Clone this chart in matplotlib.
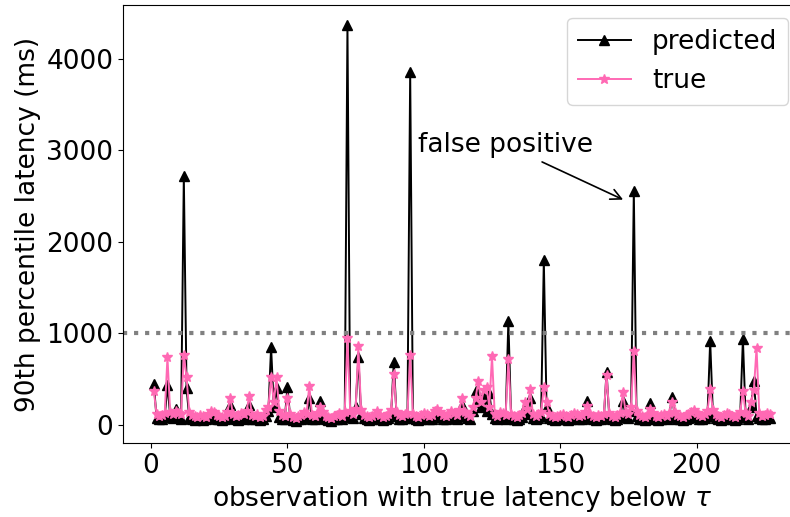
import numpy as np
import matplotlib
matplotlib.use("Agg")
import matplotlib.pyplot as plt

# observation index (1-based)
obs = list(range(1, 228))

predicted = [
    450, 80, 60, 70, 90, 440, 100, 80, 180, 90,
    70, 2720, 400, 80, 60, 50, 60, 70, 50, 60,
    80, 100, 90, 70, 60, 50, 70, 90, 220, 80,
    60, 50, 80, 70, 90, 220, 70, 60, 80, 50,
    60, 100, 150, 850, 200, 400, 90, 70, 60, 420,
    80, 50, 40, 60, 70, 90, 80, 290, 70, 60,
    80, 260, 90, 60, 50, 40, 60, 70, 80, 60,
    90, 4370, 100, 80, 200, 740, 120, 80, 60, 50,
    60, 80, 100, 70, 50, 60, 80, 120, 690, 100,
    70, 60, 80, 90, 3860, 80, 60, 50, 70, 90,
    80, 60, 70, 100, 120, 90, 70, 60, 80, 100,
    90, 70, 120, 220, 100, 80, 60, 150, 370, 250,
    200, 300, 150, 350, 120, 80, 60, 100, 90, 70,
    1140, 80, 60, 50, 70, 90, 200, 120, 300, 80,
    60, 80, 100, 1800, 200, 80, 60, 50, 60, 70,
    80, 60, 50, 70, 90, 80, 60, 70, 100, 260,
    80, 60, 50, 70, 60, 80, 580, 90, 60, 50,
    70, 90, 260, 100, 80, 150, 2560, 100, 70, 60,
    50, 70, 240, 90, 60, 50, 70, 80, 60, 90,
    310, 100, 70, 60, 50, 70, 80, 100, 120, 90,
    70, 60, 80, 100, 920, 120, 80, 60, 50, 70,
    90, 80, 60, 50, 70, 100, 940, 90, 60, 200,
    480, 100, 80, 60, 70, 90, 80,
]

true_lat = [
    370, 120, 100, 110, 130, 740, 140, 120, 150, 130,
    120, 770, 520, 140, 110, 100, 90, 110, 100, 90,
    120, 150, 140, 110, 100, 90, 100, 140, 300, 120,
    100, 110, 130, 120, 150, 320, 110, 100, 120, 90,
    100, 160, 200, 520, 250, 520, 150, 110, 100, 300,
    120, 90, 80, 100, 110, 140, 120, 430, 110, 100,
    130, 200, 140, 100, 90, 80, 100, 110, 130, 100,
    140, 950, 150, 120, 180, 860, 160, 110, 100, 90,
    100, 120, 150, 110, 90, 100, 120, 160, 560, 140,
    110, 100, 120, 130, 760, 120, 100, 90, 110, 130,
    120, 100, 110, 150, 170, 140, 110, 100, 120, 150,
    130, 110, 160, 290, 140, 120, 100, 200, 300, 480,
    250, 380, 410, 200, 750, 120, 100, 140, 130, 110,
    720, 120, 100, 90, 110, 130, 250, 170, 390, 120,
    100, 120, 140, 410, 250, 120, 100, 90, 100, 110,
    120, 100, 90, 110, 130, 120, 100, 110, 140, 210,
    120, 100, 90, 110, 100, 120, 550, 130, 100, 90,
    110, 130, 360, 140, 120, 200, 810, 150, 110, 100,
    90, 110, 180, 130, 100, 90, 110, 120, 100, 130,
    250, 140, 110, 100, 90, 110, 120, 140, 160, 130,
    110, 100, 120, 150, 390, 160, 120, 100, 90, 110,
    130, 120, 100, 90, 110, 140, 370, 130, 100, 250,
    380, 840, 130, 100, 110, 130, 120,
]

threshold = 1000

plt.rcParams['font.family'] = ['DejaVu Sans']
plt.rcParams['font.size'] = 19

fig = plt.figure(figsize=(7.9, 5.17), dpi=100)
ax = fig.add_axes([123/790, 1 - 443/517, (801 - 123)/790, (443 - 5)/517])

ax.plot(obs, predicted, color='black', marker='^', markersize=7, linewidth=1.4, label='predicted')
ax.plot(obs, true_lat, color='hotpink', marker='*', markersize=7, linewidth=1.4, label='true')
ax.axhline(threshold, color='gray', linestyle=':', linewidth=3)

ax.annotate('false positive', xy=(174, 2450), xytext=(130, 3060),
            ha='center', va='center', fontsize=19,
            arrowprops=dict(arrowstyle='->', color='black', lw=1.2))

ax.set_xlim(-10.3, 238.3)
ax.set_ylim(-197, 4590)
ax.set_xticks([0, 50, 100, 150, 200])
ax.set_yticks([0, 1000, 2000, 3000, 4000])
ax.set_xlabel(r'observation with true latency below $\tau$')
ax.set_ylabel('90th percentile latency (ms)')
ax.legend(loc='upper right', fontsize=19)

fig.savefig('out.png', dpi=100)
